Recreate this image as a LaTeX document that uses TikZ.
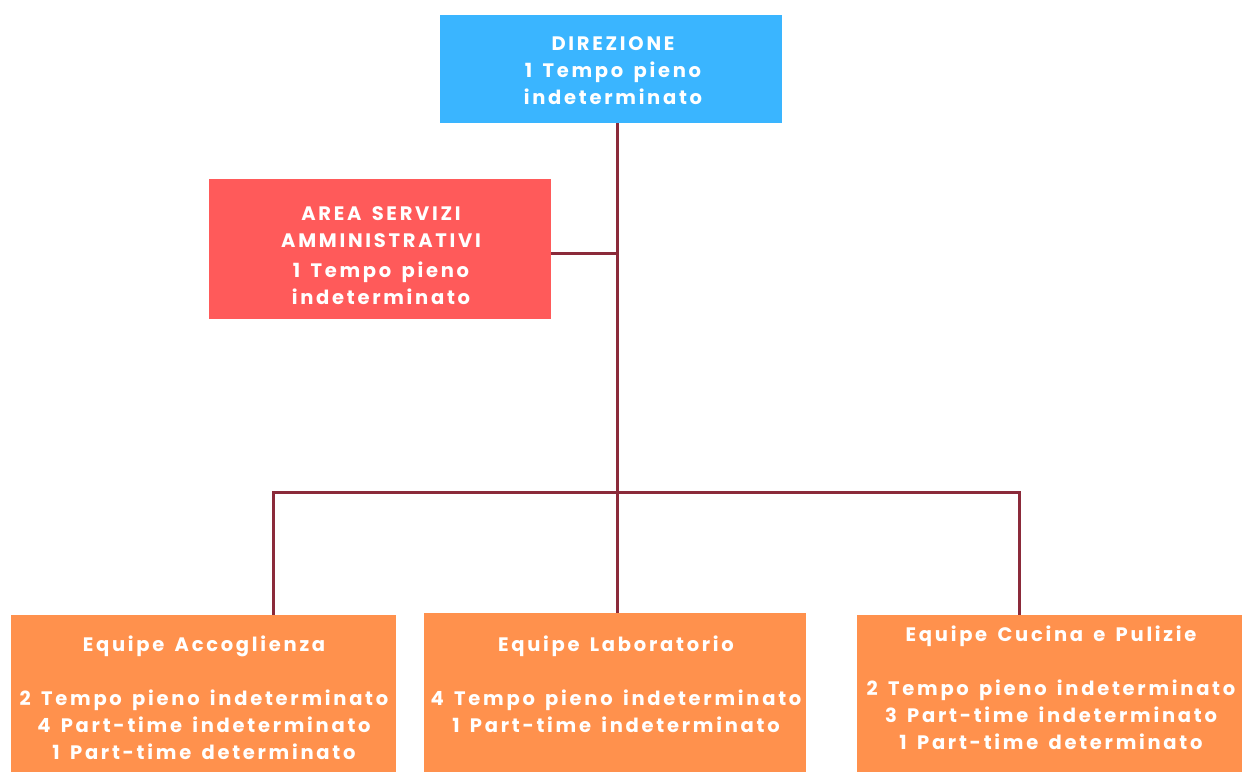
\documentclass[tikz,border=0pt]{standalone}
\usepackage{fontspec}
\setmainfont{Poppins}[LetterSpace=14,WordSpace=1.5]
\definecolor{cblue}{HTML}{3AB5FF}
\definecolor{cred}{HTML}{FF5A5A}
\definecolor{corange}{HTML}{FF914D}
\definecolor{cline}{HTML}{8B2A3A}
\tikzset{
  box/.style={draw=none, rectangle, anchor=north west, inner sep=0pt},
  txt/.style={text=white, font=\fontsize{19.5}{27}\selectfont\bfseries, align=center, inner sep=0pt},
  conn/.style={draw=cline, line width=3pt}
}
\begin{document}
\begin{tikzpicture}[x=1pt,y=-1pt]
\useasboundingbox (0,0) rectangle (1242,771);
\node[box, fill=cblue, minimum width=342pt, minimum height=108pt] (dir) at (440,15) {};
\node[box, fill=cred, minimum width=342pt, minimum height=140pt] (area) at (209,179) {};
\node[box, fill=corange, minimum width=385pt, minimum height=160pt] (acc) at (11,615) {};
\node[box, fill=corange, minimum width=382pt, minimum height=160pt] (lab) at (424,613) {};
\node[box, fill=corange, minimum width=385pt, minimum height=160pt] (cuc) at (857,615) {};
\coordinate (j) at (617,492);
\draw[conn] (dir.south -| j) -- (j);
\draw[conn] (area.east |- 0,253) -- (617,253);
\draw[conn] (273,615) |- (1019,492) -- (1019,615);
\draw[conn] (j) -- (lab.north -| j);
\node[txt] (tdir) at (613,71) {DIREZIONE\\1 Tempo pieno\\indeterminato};
\node[txt] (tarea) at (381,256) {AREA SERVIZI\\AMMINISTRATIVI\\[3pt]1 Tempo pieno\\indeterminato};
\node[txt] (tacc) at (204,698) {Equipe Accoglienza\\[27pt]2 Tempo pieno indeterminato\\4 Part-time indeterminato\\1 Part-time determinato};
\node[txt] (tlab) at (616,684) {Equipe Laboratorio\\[27pt]4 Tempo pieno indeterminato\\1 Part-time indeterminato};
\node[txt] (tcuc) at (1051,688) {Equipe Cucina e Pulizie\\[27pt]2 Tempo pieno indeterminato\\3 Part-time indeterminato\\1 Part-time determinato};
\end{tikzpicture}
\end{document}
